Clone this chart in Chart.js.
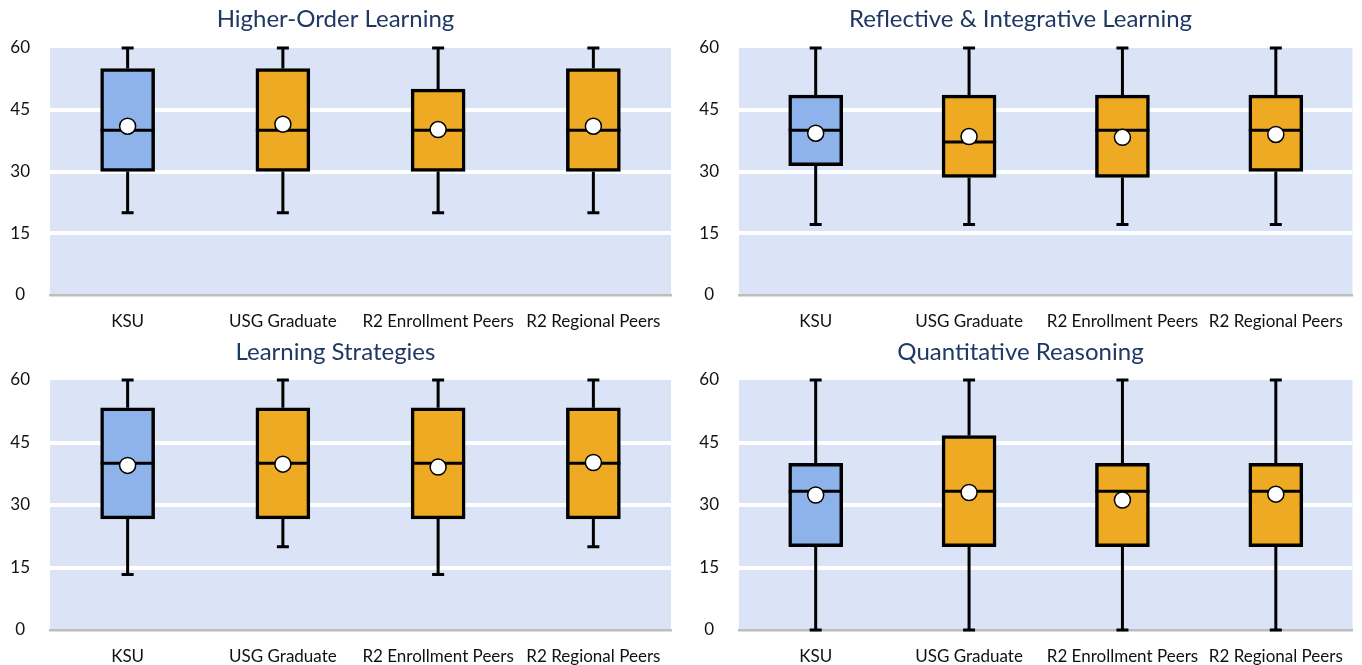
<!DOCTYPE html>
<html>
<head>
<meta charset="utf-8">
<script src="https://cdn.jsdelivr.net/npm/chart.js@4"></script>
<style>
  body { margin: 0; background: #fff; }
  #wrap { position: relative; width: 1362px; height: 665px; }
  canvas { position: absolute; }
</style>
</head>
<body>
<div id="wrap">
  <canvas id="c1" width="681" height="333" style="left:0;top:0"></canvas>
  <canvas id="c2" width="681" height="333" style="left:681px;top:0"></canvas>
  <canvas id="c3" width="681" height="332" style="left:0;top:333px"></canvas>
  <canvas id="c4" width="681" height="332" style="left:681px;top:333px"></canvas>
</div>
<script>
// categories and y axis
var categories = ['KSU', 'USG Graduate', 'R2 Enrollment Peers', 'R2 Regional Peers'];
var yTicks = [0, 15, 30, 45, 60];

// Higher-Order Learning
var holMin = [20, 20, 20, 20];
var holQ1 = [30, 30, 30, 30];
var holMedian = [40, 40, 40, 40];
var holQ3 = [55, 55, 50, 55];
var holMax = [60, 60, 60, 60];
var holMean = [41.0, 41.5, 40.2, 41.0];

// Reflective & Integrative Learning
var rilMin = [17.14, 17.14, 17.14, 17.14];
var rilQ1 = [31.43, 28.57, 28.57, 30];
var rilMedian = [40, 37.14, 40, 40];
var rilQ3 = [48.57, 48.57, 48.57, 48.57];
var rilMax = [60, 60, 60, 60];
var rilMean = [39.3, 38.5, 38.3, 39.0];

// Learning Strategies
var lsMin = [13.33, 20, 13.33, 20];
var lsQ1 = [26.67, 26.67, 26.67, 26.67];
var lsMedian = [40, 40, 40, 40];
var lsQ3 = [53.33, 53.33, 53.33, 53.33];
var lsMax = [60, 60, 60, 60];
var lsMean = [39.5, 39.8, 39.1, 40.2];

// Quantitative Reasoning
var qrMin = [0, 0, 0, 0];
var qrQ1 = [20, 20, 20, 20];
var qrMedian = [33.33, 33.33, 33.33, 33.33];
var qrQ3 = [40, 46.67, 40, 40];
var qrMax = [60, 60, 60, 60];
var qrMean = [32.4, 33.0, 31.2, 32.6];

var boxColors = ['#8eb3ea', '#eeaa22', '#eeaa22', '#eeaa22'];

// light blue plot background
var plotBg = {
    id: 'plotBg',
    beforeDraw: function (chart) {
        var a = chart.chartArea;
        chart.ctx.save();
        chart.ctx.fillStyle = '#dae4f6';
        chart.ctx.fillRect(a.left, a.top, a.right - a.left, a.bottom - a.top);
        chart.ctx.restore();
    }
};

// whiskers + median, drawn right after the boxes
function boxExtras(mins, medians, maxs, q1s, q3s) {
    return {
        id: 'boxExtras',
        afterDatasetDraw: function (chart, args) {
            if (args.index !== 0) return;
            var ctx = chart.ctx, y = chart.scales.y;
            var meta = chart.getDatasetMeta(0);
            ctx.save();
            ctx.strokeStyle = '#000';
            ctx.lineWidth = 3;
            ctx.lineCap = 'butt';
            meta.data.forEach(function (bar, i) {
                var cx = bar.x, half = bar.width / 2;
                var yMin = y.getPixelForValue(mins[i]);
                var yMax = y.getPixelForValue(maxs[i]);
                var yQ1 = y.getPixelForValue(q1s[i]);
                var yQ3 = y.getPixelForValue(q3s[i]);
                var yMed = y.getPixelForValue(medians[i]);
                ctx.beginPath();
                ctx.moveTo(cx, yQ3); ctx.lineTo(cx, yMax);
                ctx.moveTo(cx - 6, yMax); ctx.lineTo(cx + 6, yMax);
                ctx.moveTo(cx, yQ1); ctx.lineTo(cx, yMin);
                ctx.moveTo(cx - 6, yMin); ctx.lineTo(cx + 6, yMin);
                ctx.moveTo(cx - half, yMed); ctx.lineTo(cx + half, yMed);
                ctx.stroke();
            });
            ctx.restore();
        }
    };
}

function makeChart(id, title, mins, q1s, medians, q3s, maxs, means, yWidth, padRight, titleBottom, xHeight) {
    new Chart(id, {
        type: 'bar',
        data: {
            labels: categories,
            datasets: [{
                type: 'bar',
                data: categories.map(function (c, i) { return [q1s[i], q3s[i]]; }),
                backgroundColor: boxColors,
                borderColor: '#000',
                borderWidth: 3.5,
                borderSkipped: false,
                barThickness: 54,
                order: 2
            }, {
                type: 'line',
                data: means,
                showLine: false,
                pointRadius: 8,
                pointBackgroundColor: '#fff',
                pointBorderColor: '#000',
                pointBorderWidth: 1.5,
                order: 1
            }]
        },
        options: {
            responsive: false,
            animation: false,
            layout: { padding: { left: 0, right: padRight, top: 0, bottom: 0 } },
            plugins: {
                legend: { display: false },
                tooltip: { enabled: false },
                title: {
                    display: true,
                    text: title,
                    color: '#1f3864',
                    font: { family: 'Lato', size: 24, weight: 'normal', lineHeight: 1.2 },
                    padding: { top: 4.6, bottom: titleBottom }
                }
            },
            scales: {
                x: {
                    grid: { display: false },
                    border: { display: true, color: '#bdbdbd', width: 2.5 },
                    ticks: {
                        color: '#111',
                        font: { family: 'Lato', size: 17 },
                        autoSkip: false,
                        maxRotation: 0,
                        padding: 8
                    },
                    afterFit: function (s) { s.height = xHeight; }
                },
                y: {
                    min: 0,
                    max: 60,
                    afterBuildTicks: function (s) { s.ticks = yTicks.map(function (v) { return { value: v }; }); },
                    grid: {
                        drawTicks: false,
                        lineWidth: 4,
                        color: function (c) { return (c.tick && c.tick.value > 0 && c.tick.value < 60) ? '#ffffff' : 'rgba(0,0,0,0)'; }
                    },
                    border: { display: false },
                    ticks: {
                        color: '#111',
                        font: { family: 'Lato', size: 17 },
                        crossAlign: 'center',
                        padding: 20
                    },
                    afterFit: function (s) { s.width = yWidth; }
                }
            }
        },
        plugins: [plotBg, boxExtras(mins, medians, maxs, q1s, q3s)]
    });
}

makeChart('c1', 'Higher-Order Learning', holMin, holQ1, holMedian, holQ3, holMax, holMean, 50, 10, 14.6, 38);
makeChart('c2', 'Reflective & Integrative Learning', rilMin, rilQ1, rilMedian, rilQ3, rilMax, rilMean, 58, 2, 14.6, 38);
makeChart('c3', 'Learning Strategies', lsMin, lsQ1, lsMedian, lsQ3, lsMax, lsMean, 50, 10, 13.6, 35);
makeChart('c4', 'Quantitative Reasoning', qrMin, qrQ1, qrMedian, qrQ3, qrMax, qrMean, 58, 2, 13.6, 35);
</script>
</body>
</html>
